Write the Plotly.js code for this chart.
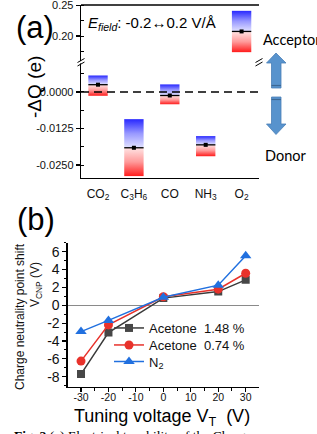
<!DOCTYPE html>
<html>
<head>
<meta charset="utf-8">
<script src="https://cdn.plot.ly/plotly-3.0.1.min.js"></script>
<style>
  html, body { margin: 0; padding: 0; background: #fff; }
  #chart { width: 317px; height: 434px; }
</style>
</head>
<body>
<div id="chart"></div>
<script>
// ---- Panel (a): charge transfer -ΔQ of each gas molecule under E-field sweep ----
const molecules = ['CO<sub>2</sub>', 'C<sub>3</sub>H<sub>6</sub>', 'CO', 'NH<sub>3</sub>', 'O<sub>2</sub>'];
const dqTop    = [0.00565, -0.0093, 0.0026, -0.0151, 0.2408];
const dqMean   = [0.0025, -0.0191, -0.0012, -0.0181, 0.2075];
const dqBottom = [-0.0013, -0.0288, -0.0042, -0.0220, 0.1740];
const onUpperSegment = [false, false, false, false, true];
const lowerTickVals = [0, -0.0125, -0.025];
const lowerTickText = ['0.0000', '-0.0125', '-0.0250'];
const upperTickVals = [0.20, 0.25];
const upperTickText = ['0.20', '0.25'];

// ---- Panel (b): charge neutrality point shift vs tuning voltage ----
const tuningVoltage = [-30, -20, 0, 20, 30];
const acetone148 = [-7.7, -3.05, 0.8, 1.53, 2.84];
const acetone074 = [-6.25, -2.2, 0.95, 1.8, 3.58];
const nitrogen   = [-2.95, -1.7, 0.9, 2.25, 5.55];
const seriesNames = ['Acetone\u00a0 1.48 %', 'Acetone\u00a0 0.74 %', 'N<sub>2</sub>'];
const vtTickVals = [-30, -20, -10, 0, 10, 20, 30];
const vtTickText = ['-30', '-20', '-10', '0', '10', '20', '30'];
const cnpTickVals = [-8, -6, -4, -2, 0, 2, 4, 6];
const cnpTickText = ['-8', '-6', '-4', '-2', '0', '2', '4', '6'];

// pixel -> paper helpers for the fixed 317x434 canvas
const W = 317, H = 434;
const px = x => x / W;
const py = y => 1 - y / H;

const SANS = 'Liberation Sans, Arial, sans-serif';
const INK = '#111';

const traces = [];

// Gradient boxes: red half below the mean, blue half above it
const redScale  = [[0, '#ff1c1c'], [0.5, '#ff9a9a'], [1, '#ffe4e4']];
const blueScale = [[0, '#e2e2ff'], [0.5, '#9898ff'], [1, '#2828ff']];
const HALF = 0.27;

molecules.forEach((m, i) => {
  const ya = onUpperSegment[i] ? 'y2' : 'y';
  const xs = [i - HALF, i + HALF, i + HALF, i - HALF, i - HALF];
  traces.push({
    type: 'scatter', mode: 'lines', xaxis: 'x', yaxis: ya,
    x: xs, y: [dqBottom[i], dqBottom[i], dqMean[i], dqMean[i], dqBottom[i]],
    fill: 'toself', fillgradient: { type: 'vertical', colorscale: redScale },
    line: { width: 0, color: 'rgba(0,0,0,0)' }, hoverinfo: 'skip', showlegend: false
  });
  traces.push({
    type: 'scatter', mode: 'lines', xaxis: 'x', yaxis: ya,
    x: xs, y: [dqMean[i], dqMean[i], dqTop[i], dqTop[i], dqMean[i]],
    fill: 'toself', fillgradient: { type: 'vertical', colorscale: blueScale },
    line: { width: 0, color: 'rgba(0,0,0,0)' }, hoverinfo: 'skip', showlegend: false
  });
  // mean level line with its centre dot
  traces.push({
    type: 'scatter', mode: 'lines', xaxis: 'x', yaxis: ya,
    x: [i - HALF, i + HALF], y: [dqMean[i], dqMean[i]],
    line: { width: 1.3, color: '#000' }, hoverinfo: 'skip', showlegend: false
  });
  traces.push({
    type: 'scatter', mode: 'markers', xaxis: 'x', yaxis: ya,
    x: [i], y: [dqMean[i]],
    marker: { symbol: 'square', size: 4, color: '#000' }, hoverinfo: 'skip', showlegend: false
  });
});

// Panel (b) series, each with its own legend row
const seriesStyle = [
  { y: acetone148, color: '#3a3a3a', mcolor: '#474747', symbol: 'square', size: 8, legend: 'legend' },
  { y: acetone074, color: '#e8322b', mcolor: '#e8322b', symbol: 'circle', size: 9, legend: 'legend2' },
  { y: nitrogen,   color: '#2170df', mcolor: '#2170df', symbol: 'triangle-up', size: 10, legend: 'legend3' }
];
seriesStyle.forEach((s, k) => {
  traces.push({
    type: 'scatter', mode: 'lines+markers', xaxis: 'x2', yaxis: 'y5',
    name: seriesNames[k], legend: s.legend, x: tuningVoltage, y: s.y,
    line: { color: s.color, width: 1.5 },
    marker: { symbol: s.symbol, size: s.size, color: s.mcolor },
    hoverinfo: 'skip'
  });
});

const lineAx = { showline: true, linecolor: '#000', linewidth: 1.3, showgrid: false, zeroline: false };

// lower / upper ranges of the broken -ΔQ axis
const lowerRange = [-0.02945, 0.01027];
const upperRange = [0.1581, 0.2502];
const vtRange = [-34.85, 34.85];
const cnpRange = [-9.15, 7.0];

const legendRow = yPix => ({
  x: px(109), y: py(yPix), xanchor: 'left', yanchor: 'middle',
  bgcolor: 'rgba(0,0,0,0)', borderwidth: 0,
  font: { family: SANS, size: 13, color: INK }, itemwidth: 30
});

const layout = {
  width: W, height: H,
  margin: { l: 0, r: 0, t: 0, b: 0 },
  paper_bgcolor: '#fff', plot_bgcolor: 'rgba(0,0,0,0)',
  font: { family: SANS, color: INK },
  showlegend: true,
  legend: legendRow(328),
  legend2: legendRow(345),
  legend3: legendRow(361.5),

  // ---- panel (a) axes ----
  xaxis: Object.assign({}, lineAx, {
    domain: [px(81), px(259)], range: [-0.474, 4.485], anchor: 'y',
    tickmode: 'array', tickvals: [0, 1, 2, 3, 4], ticktext: molecules, ticks: '',
    tickfont: { family: SANS, size: 12, color: INK }, ticklabelstandoff: 4
  }),
  yaxis: Object.assign({}, lineAx, {
    domain: [py(178), py(62)], range: lowerRange, anchor: 'x',
    tickmode: 'array', tickvals: lowerTickVals, ticktext: lowerTickText,
    ticks: 'outside', ticklen: 4, tickwidth: 1.2, tickcolor: '#000',
    minor: { tickmode: 'linear', tick0: 0, dtick: 0.00625, ticks: 'inside', ticklen: 3, tickwidth: 1, tickcolor: '#000' },
    tickfont: { family: SANS, size: 11, color: INK }
  }),
  yaxis2: Object.assign({}, lineAx, {
    domain: [py(62), py(5)], range: upperRange, anchor: 'x',
    tickmode: 'array', tickvals: upperTickVals, ticktext: upperTickText,
    ticks: 'outside', ticklen: 4, tickwidth: 1.2, tickcolor: '#000',
    ticklabeloverflow: 'allow',
    minor: { tickmode: 'linear', tick0: 0, dtick: 0.025, ticks: 'inside', ticklen: 3, tickwidth: 1, tickcolor: '#000' },
    tickfont: { family: SANS, size: 11, color: INK }
  }),
  yaxis3: Object.assign({}, lineAx, {
    overlaying: 'y', side: 'right', anchor: 'x', range: lowerRange,
    tickmode: 'array', tickvals: lowerTickVals, showticklabels: false,
    ticks: 'inside', ticklen: 4, tickwidth: 1.2, tickcolor: '#000',
    minor: { tickmode: 'linear', tick0: 0, dtick: 0.00625, ticks: 'inside', ticklen: 3, tickwidth: 1, tickcolor: '#000' }
  }),
  yaxis4: Object.assign({}, lineAx, {
    overlaying: 'y2', side: 'right', anchor: 'x', range: upperRange,
    tickmode: 'array', tickvals: upperTickVals, showticklabels: false,
    ticks: 'inside', ticklen: 4, tickwidth: 1.2, tickcolor: '#000',
    minor: { tickmode: 'linear', tick0: 0, dtick: 0.025, ticks: 'inside', ticklen: 3, tickwidth: 1, tickcolor: '#000' }
  }),

  // ---- panel (b) axes ----
  xaxis2: Object.assign({}, lineAx, {
    domain: [px(67.7), px(259)], range: vtRange, anchor: 'y5',
    tickmode: 'array', tickvals: vtTickVals, ticktext: vtTickText,
    ticks: 'outside', ticklen: 4, tickwidth: 1.1, tickcolor: '#000',
    minor: { tickmode: 'linear', tick0: 0, dtick: 5, ticks: 'outside', ticklen: 2.5, tickwidth: 1, tickcolor: '#000' },
    tickfont: { family: SANS, size: 10.5, color: INK }, ticklabelstandoff: -4
  }),
  yaxis5: Object.assign({}, lineAx, {
    domain: [py(387), py(242.7)], range: cnpRange, anchor: 'x2',
    tickmode: 'array', tickvals: cnpTickVals, ticktext: cnpTickText,
    ticks: 'outside', ticklen: 4, tickwidth: 1.1, tickcolor: '#000',
    minor: { tickmode: 'linear', tick0: 0, dtick: 1, ticks: 'outside', ticklen: 2.5, tickwidth: 1, tickcolor: '#000' },
    tickfont: { family: SANS, size: 14, color: INK },
    zeroline: true, zerolinecolor: '#8a8a8a', zerolinewidth: 1
  }),
  xaxis3: Object.assign({}, lineAx, {
    overlaying: 'x2', side: 'top', anchor: 'y5', range: vtRange,
    tickmode: 'array', tickvals: vtTickVals, showticklabels: false,
    ticks: 'inside', ticklen: 4, tickwidth: 1.1, tickcolor: '#000',
    minor: { tickmode: 'linear', tick0: 0, dtick: 5, ticks: 'inside', ticklen: 2.5, tickwidth: 1, tickcolor: '#000' }
  }),
  yaxis6: Object.assign({}, lineAx, {
    overlaying: 'y5', side: 'right', anchor: 'x2', range: cnpRange,
    tickmode: 'array', tickvals: cnpTickVals, showticklabels: false,
    ticks: 'inside', ticklen: 4, tickwidth: 1.1, tickcolor: '#000',
    minor: { tickmode: 'linear', tick0: 0, dtick: 1, ticks: 'inside', ticklen: 2.5, tickwidth: 1, tickcolor: '#000' }
  }),

  shapes: [],
  annotations: []
};

// ---- decorations ----
const pathOf = pts => 'M' + pts.map(([x, y]) => px(x) + ',' + py(y)).join('L') + 'Z';

// top frame edge of panel (a)
layout.shapes.push({ type: 'line', xref: 'paper', yref: 'paper', x0: px(81), x1: px(259), y0: py(5), y1: py(5), line: { color: '#000', width: 1.3 } });
// dashed reference at -ΔQ = 0
layout.shapes.push({ type: 'line', xref: 'paper', yref: 'y', x0: px(81), x1: px(259), y0: 0, y1: 0, line: { color: '#000', width: 1.6, dash: '8px,5px' } });

// axis break marks "//" on both sides
[81, 259].forEach(x => {
  layout.shapes.push({ type: 'rect', xref: 'paper', yref: 'paper', x0: px(x - 1.8), x1: px(x + 1.8), y0: py(63.4), y1: py(61.1), fillcolor: '#fff', line: { width: 0 } });
  layout.shapes.push({ type: 'line', xref: 'paper', yref: 'paper', x0: px(x - 3.5), x1: px(x + 3.5), y0: py(62.5), y1: py(58.5), line: { color: '#000', width: 1 } });
  layout.shapes.push({ type: 'line', xref: 'paper', yref: 'paper', x0: px(x - 3.5), x1: px(x + 3.5), y0: py(66), y1: py(62), line: { color: '#000', width: 1 } });
});

// acceptor / donor block arrows
const arrowFill = '#5893cd', arrowEdge = '#4a7fb6';
layout.shapes.push({ type: 'path', xref: 'paper', yref: 'paper', path: pathOf([[276, 53], [286, 63], [281, 63], [281, 88], [271.5, 88], [271.5, 63], [266.5, 63]]), fillcolor: arrowFill, line: { color: arrowEdge, width: 0.8 } });
layout.shapes.push({ type: 'path', xref: 'paper', yref: 'paper', path: pathOf([[271.5, 97], [281, 97], [281, 124], [286, 124], [276, 134.5], [266.5, 124], [271.5, 124]]), fillcolor: arrowFill, line: { color: arrowEdge, width: 0.8 } });
layout.shapes.push({ type: 'line', xref: 'paper', yref: 'paper', x0: px(271.5), x1: px(281), y0: py(85.5), y1: py(85.5), line: { color: '#3c6894', width: 1.2 } });
layout.shapes.push({ type: 'line', xref: 'paper', yref: 'paper', x0: px(271.5), x1: px(281), y0: py(99.5), y1: py(99.5), line: { color: '#3c6894', width: 1.2 } });

const ann = (text, x, y, opts) => Object.assign({
  text, xref: 'paper', yref: 'paper', x: px(x), y: py(y), showarrow: false,
  xanchor: 'center', yanchor: 'middle', font: { family: SANS, size: 12, color: INK }
}, opts || {});

layout.annotations.push(
  ann('(a)', 35, 27, { font: { family: SANS, size: 31, color: '#000' } }),
  ann('(b)', 36, 219.5, { font: { family: SANS, size: 31, color: '#000' } }),
  ann('<i>E</i><sub><i>field</i></sub>: -0.2\u21940.2 V/\u00c5', 86, 24, { xanchor: 'left', font: { family: SANS, size: 15, color: '#000' } }),
  ann('-\u0394Q (e)', 35, 87, { textangle: -90, font: { family: SANS, size: 19, color: '#000' } }),
  ann('Acceptor', 261, 39, { xanchor: 'left', font: { family: 'Lato, sans-serif', size: 14.5, color: '#000' } }),
  ann('Donor', 263, 155, { xanchor: 'left', font: { family: 'Lato, sans-serif', size: 14.5, color: '#000' } }),
  ann('Charge neutrality point shift', 20, 317, { textangle: -90, font: { family: SANS, size: 12, color: INK } }),
  ann('V<sub>CNP</sub> (V)', 36, 285, { textangle: -90, font: { family: SANS, size: 12, color: INK } }),
  ann('Tuning voltage V<sub>T</sub>\u00a0 (V)', 162, 417.5, { font: { family: SANS, size: 18, color: '#000' } }),
  ann('<b>Fig. 2</b> (a) Electrical tunability of the Charge', 12, 426, { xanchor: 'left', yanchor: 'top', font: { family: 'Liberation Serif, Times New Roman, serif', size: 13.5, color: '#000' } })
);

Plotly.newPlot('chart', traces, layout, { staticPlot: true, displayModeBar: false });
</script>
</body>
</html>
